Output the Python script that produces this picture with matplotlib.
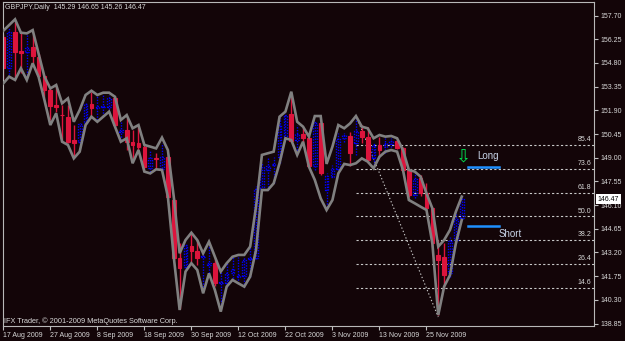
import matplotlib
matplotlib.use('Agg')
import matplotlib.pyplot as plt
from matplotlib.patches import Rectangle
from matplotlib.transforms import blended_transform_factory

plt.rcParams['font.family'] = ['Liberation Sans', 'DejaVu Sans']

# ---- data (GBPJPY daily, 17 Aug 2009 .. 3 Dec 2009) ----
opens = [156.41, 154.47, 156.71, 155.55, 155.49, 155.75, 155.18, 154.00, 153.14, 152.20,
         151.63, 151.47, 150.08, 149.98, 151.14, 152.26, 152.02, 152.08, 152.12, 152.63,
         150.59, 150.69, 149.98, 149.88, 149.67, 148.35, 149.00, 148.29, 149.06, 146.41,
         142.84, 142.33, 143.61, 143.31, 142.90, 142.43, 142.53, 141.31, 141.31, 141.92,
         141.72, 141.76, 142.78, 142.84, 147.10, 148.24, 148.53, 149.06, 150.12, 151.67,
         150.08, 150.45, 150.18, 148.49, 151.10, 147.02, 147.84, 148.29, 150.18, 150.33,
         149.88, 150.65, 150.29, 148.96, 149.78, 149.63, 149.84, 150.02, 149.57, 148.24,
         146.72, 147.73, 146.82, 145.90, 143.04, 142.94, 141.92, 143.96, 145.29]
highs = [156.57, 156.92, 157.32, 156.65, 156.57, 156.51, 155.34, 154.06, 153.30, 153.39,
         152.22, 152.22, 151.00, 151.10, 152.37, 153.04, 152.77, 152.84, 152.84, 152.69,
         151.20, 151.41, 150.69, 150.90, 149.78, 149.47, 149.27, 149.92, 149.16, 146.51,
         143.76, 143.76, 144.33, 143.96, 143.19, 143.76, 142.84, 142.02, 142.53, 142.94,
         142.94, 142.94, 143.51, 147.25, 148.65, 149.06, 149.06, 151.41, 151.75, 152.77,
         151.00, 150.80, 150.39, 151.26, 151.20, 148.04, 148.55, 150.49, 150.53, 150.59,
         151.50, 151.00, 150.90, 149.98, 150.29, 150.22, 150.18, 150.12, 149.67, 148.33,
         148.14, 147.94, 147.43, 146.00, 143.96, 143.76, 144.16, 145.70, 146.65]
lows = [153.65, 153.96, 153.75, 154.16, 153.86, 154.77, 153.96, 152.63, 151.31, 151.82,
        150.08, 149.88, 149.06, 149.88, 151.06, 151.51, 151.31, 151.55, 151.82, 150.90,
        150.08, 149.47, 148.86, 149.47, 148.25, 148.14, 148.35, 148.20, 146.45, 142.74,
        139.72, 142.23, 142.64, 142.43, 141.11, 141.92, 141.15, 139.88, 141.11, 141.47,
        141.31, 141.11, 141.72, 142.78, 147.02, 147.02, 147.43, 148.65, 150.04, 149.98,
        149.27, 149.92, 148.41, 148.25, 147.94, 146.00, 147.80, 148.25, 149.98, 148.49,
        149.16, 149.88, 148.69, 148.45, 149.06, 149.27, 149.47, 149.51, 148.14, 146.61,
        146.51, 146.65, 145.80, 143.55, 139.37, 141.11, 141.72, 143.76, 145.26]
closes = [154.47, 156.71, 155.49, 155.43, 155.73, 155.22, 154.00, 153.14, 152.16, 152.12,
          151.59, 149.98, 149.92, 151.06, 152.28, 152.02, 152.14, 152.18, 152.63, 151.00,
          150.69, 149.98, 149.78, 149.67, 148.45, 148.96, 148.90, 149.02, 146.61, 142.84,
          142.23, 143.65, 143.31, 142.84, 142.98, 142.57, 141.31, 141.41, 141.92, 142.21,
          141.80, 142.74, 142.88, 147.10, 148.45, 148.49, 148.61, 151.00, 151.59, 150.04,
          150.45, 150.18, 148.49, 151.14, 148.08, 147.90, 148.31, 150.14, 150.39, 149.27,
          150.65, 150.29, 148.86, 149.78, 149.47, 149.88, 150.04, 149.57, 148.24, 146.72,
          147.69, 146.82, 145.90, 143.76, 142.74, 141.82, 143.92, 145.25, 146.47]
upper_band = [156.77, 157.12, 157.47, 156.65, 156.61, 156.81, 155.38, 153.96, 153.24, 153.45,
              152.33, 152.63, 151.20, 151.92, 152.84, 153.10, 152.84, 152.98, 152.98, 152.73,
              151.31, 151.61, 150.80, 151.00, 149.78, 149.68, 149.57, 150.23, 149.47, 146.62,
              143.15, 143.96, 144.41, 143.96, 143.15, 143.86, 142.94, 142.03, 142.54, 142.94,
              143.05, 143.05, 143.56, 146.00, 149.17, 149.27, 149.37, 151.51, 151.82, 153.04,
              151.20, 150.90, 150.29, 151.55, 151.55, 148.62, 149.68, 151.00, 150.80, 151.10,
              151.55, 150.90, 150.80, 150.19, 150.39, 150.29, 150.33, 150.19, 149.47, 148.25,
              148.15, 147.84, 146.82, 145.90, 143.56, 143.96, 144.58, 145.70, 146.62]
lower_band = [153.55, 153.96, 153.76, 154.47, 153.76, 154.78, 153.96, 152.53, 151.00, 151.72,
              149.98, 149.78, 148.96, 149.37, 151.00, 151.51, 151.20, 151.51, 151.82, 150.90,
              149.98, 150.19, 148.66, 149.47, 148.15, 148.04, 148.29, 148.25, 146.62, 142.94,
              139.68, 142.03, 142.54, 142.13, 140.70, 141.92, 140.90, 139.58, 141.11, 141.52,
              141.31, 141.11, 141.72, 143.35, 147.02, 147.02, 147.43, 148.66, 150.19, 150.08,
              149.17, 149.98, 148.45, 147.64, 146.51, 145.80, 146.41, 148.04, 148.62, 148.55,
              148.66, 148.96, 148.76, 148.35, 149.06, 149.37, 149.47, 149.37, 148.25, 146.41,
              146.21, 146.00, 145.80, 143.76, 139.37, 141.11, 141.82, 143.76, 145.19]

date_tick_bars = [0, 8, 16, 24, 32, 40, 48, 56, 64, 72]
date_labels = ['17 Aug 2009', '27 Aug 2009', '8 Sep 2009', '18 Sep 2009', '30 Sep 2009',
               '12 Oct 2009', '22 Oct 2009', '3 Nov 2009', '13 Nov 2009', '25 Nov 2009']
price_ticks = [157.70, 156.25, 154.80, 153.35, 151.90, 150.45, 149.00, 147.55, 146.10,
               144.65, 143.20, 141.75, 140.30, 138.85]

fib_ratios = [0.146, 0.264, 0.382, 0.500, 0.618, 0.736, 0.854]
fib_labels = ['14.6', '26.4', '38.2', '50.0', '61.8', '73.6', '85.4']
fib_high, fib_low = 151.58, 139.25
fib_high_bar, fib_low_bar = 60, 74
long_level, short_level = 148.45, 144.84
last_price = 146.47

# ---- style ----
BG = '#130508'
BEAR = '#DC143C'
BULL = '#0000FF'
BAND = '#808080'
FG = '#D8D8D8'
FS = 5.0

fig = plt.figure(figsize=(6.25, 3.41), dpi=100, facecolor=BG)
ax = fig.add_axes([3 / 625, 15 / 341, 591 / 625, 324 / 341], facecolor=BG)

n = len(opens)
w = 0.62
for i in range(n):
    o, h, l, c = opens[i], highs[i], lows[i], closes[i]
    if c >= o:
        ax.vlines(i, l, h, colors=BULL, linewidth=1.0, linestyles=(0, (1, 1)), zorder=2)
        ax.add_patch(Rectangle((i - w / 2, o), w, c - o, facecolor='none', edgecolor=BULL,
                               linewidth=1.0, linestyle=(0, (1, 1)), zorder=2))
    else:
        ax.vlines(i, l, h, colors=BEAR, linewidth=1.0, zorder=2)
        ax.add_patch(Rectangle((i - w / 2, c), w, o - c, facecolor=BEAR, edgecolor=BEAR,
                               linewidth=0.8, zorder=2))

xs = list(range(n))
ax.plot(xs, upper_band, color=BAND, linewidth=1.9, zorder=3, solid_joinstyle='miter')
ax.plot(xs, lower_band, color=BAND, linewidth=1.9, zorder=3, solid_joinstyle='miter')

# Fibonacci retracement
x_right = 100.5
for r, lab in zip(fib_ratios, fib_labels):
    lvl = fib_low + r * (fib_high - fib_low)
    ax.plot([fib_high_bar, x_right], [lvl, lvl], color='#C8C8C8', linewidth=0.8,
            linestyle=(0, (2, 2)), zorder=1)
    ax.text(100.0, lvl + 0.1, lab, color=FG, fontsize=FS, ha='right', va='bottom', zorder=4)
ax.plot([fib_high_bar, fib_low_bar], [fib_high, fib_low], color='#C8C8C8', linewidth=0.8,
        linestyle=(0, (1.2, 2)), zorder=1)

# Long / Short markers
ax.plot([79.1, 84.4], [long_level, long_level], color='#1E90FF', linewidth=1.8, zorder=4)
ax.plot([79.1, 84.4], [short_level, short_level], color='#1E90FF', linewidth=1.8, zorder=4)
ax.text(80.6, 149.10, 'Long', color='#C8D4E8', fontsize=7, ha='left', va='center', zorder=4)
ax.text(84.3, 144.33, 'Short', color='#C8D4E8', fontsize=7, ha='left', va='center', zorder=4)
ax.text(78.3, 149.10, '\u21e9', color='#00E050', fontsize=13, ha='center', va='center',
        family=['DejaVu Sans'], zorder=4)

ax.set_xlim(-0.05, 100.5)
ax.set_ylim(138.70, 158.53)

ax.yaxis.tick_right()
ax.set_yticks(price_ticks)
ax.set_yticklabels(['%.2f' % v for v in price_ticks])
ax.set_xticks(date_tick_bars)
ax.set_xticklabels(date_labels, ha='left')
ax.tick_params(axis='both', colors='#C0C0C0', labelcolor=FG, labelsize=FS, length=3,
               width=0.8, direction='out')
ax.tick_params(axis='y', pad=2)
ax.tick_params(axis='x', pad=1.5)
for s in ax.spines.values():
    s.set_color('#B8B8B8')
    s.set_linewidth(0.8)

# last price box
tr = blended_transform_factory(ax.transAxes, ax.transData)
ax.text(1.006, last_price, '%.2f' % last_price, transform=tr, color='black', fontsize=FS,
        ha='left', va='center', clip_on=False, zorder=10,
        bbox=dict(facecolor='white', edgecolor='none', pad=1.2))

fig.text(5 / 625, 1 - 7.5 / 341, 'GBPJPY,Daily  145.29 146.65 145.26 146.47', color=FG,
         fontsize=FS, ha='left', va='center')
fig.text(4 / 625, 1 - 321.5 / 341, 'IFX Trader, \u00a9 2001-2009 MetaQuotes Software Corp.',
         color=FG, fontsize=5.3, ha='left', va='center')

fig.savefig('out.png', dpi=100, facecolor=BG)
